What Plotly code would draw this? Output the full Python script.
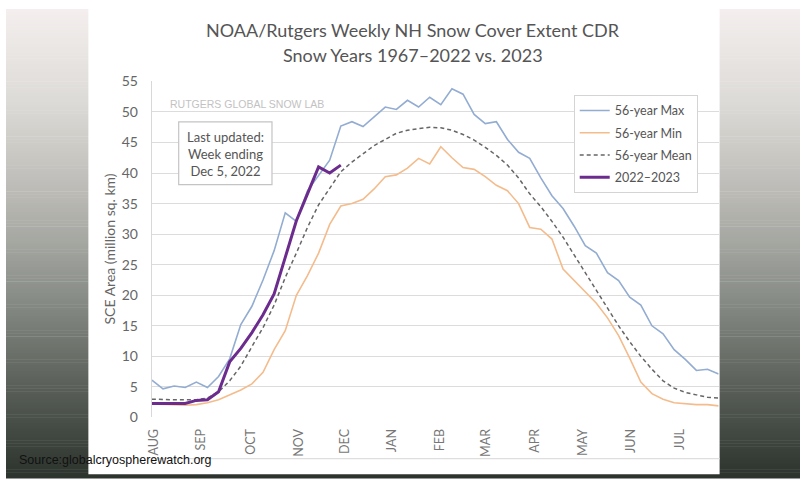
import plotly.graph_objects as go

# ---------------- data ----------------
weeks = list(range(52))
month_labels = ["AUG", "SEP", "OCT", "NOV", "DEC", "JAN", "FEB", "MAR", "APR", "MAY", "JUN", "JUL"]
month_pos = [0.2, 4.4, 8.9, 13.2, 17.4, 21.6, 25.9, 30.1, 34.5, 38.8, 43.1, 47.5]
y_ticks = [0, 5, 10, 15, 20, 25, 30, 35, 40, 45, 50, 55]

max_vals = [6.1, 4.7, 5.15, 4.9, 5.8, 4.9, 6.7, 9.6, 15.2, 18.2, 22.5, 27.3, 33.5, 32.1,
            37.1, 39.5, 42.1, 47.7, 48.4, 47.6, 49.2, 50.8, 50.4, 51.9, 50.8, 52.4, 51.2,
            53.8, 52.9, 49.6, 48.1, 48.4, 45.5, 43.4, 42.4, 39.2, 36.3, 34.2, 31.3, 28.1,
            26.9, 23.7, 22.4, 19.7, 18.4, 15.0, 13.7, 11.1, 9.5, 7.7, 7.9, 7.1]
min_vals = [2.2, 2.1, 2.0, 2.0, 2.1, 2.4, 2.9, 3.7, 4.5, 5.5, 7.4, 11.1, 14.2, 20.0, 23.2,
            26.9, 31.6, 34.6, 35.0, 35.7, 37.4, 39.4, 39.7, 40.8, 42.4, 41.5, 44.3, 42.5,
            40.9, 40.6, 39.4, 38.0, 37.1, 35.0, 31.1, 30.8, 29.2, 24.3, 22.4, 20.5, 18.7,
            16.3, 13.4, 9.7, 5.8, 3.9, 3.0, 2.4, 2.2, 2.1, 2.1, 1.9]
mean_vals = [3.0, 2.9, 2.9, 2.9, 2.9, 3.2, 4.2, 6.0, 8.4, 11.6, 14.7, 18.4, 22.9, 26.9,
             31.1, 34.8, 37.6, 40.2, 41.8, 43.2, 44.5, 45.5, 46.5, 47.0, 47.3, 47.5, 47.4,
             47.0, 46.3, 45.4, 44.2, 42.9, 41.3, 39.2, 36.6, 34.5, 32.1, 29.5, 26.6, 23.7,
             20.8, 17.9, 15.0, 12.4, 10.0, 7.9, 6.0, 4.8, 4.1, 3.7, 3.3, 3.2]
cur_vals = [2.3, 2.3, 2.3, 2.3, 2.8, 2.9, 4.2, 9.1, 11.3, 13.9, 16.8, 20.2, 26.2, 32.2,
            36.6, 41.0, 40.0, 41.3]

W, H = 800, 486
FONT = "Lato, 'Open Sans', sans-serif"


def px_x(p):
    return p / W


def px_y(p):
    return 1 - p / H


# ---------------- figure ----------------
fig = go.Figure()
fig.add_trace(go.Scatter(x=weeks, y=max_vals, name="56-year Max", mode="lines", legendgroup="a",
                         line=dict(color="#93acd2", width=1.6)))
fig.add_trace(go.Scatter(x=weeks, y=min_vals, name="56-year Min", mode="lines", legendgroup="b",
                         line=dict(color="#f4bc8c", width=1.6)))
fig.add_trace(go.Scatter(x=weeks, y=mean_vals, name="56-year Mean", mode="lines", legendgroup="c",
                         line=dict(color="#666666", width=1.5, dash="4px,3px")))
fig.add_trace(go.Scatter(x=weeks[:len(cur_vals)], y=cur_vals, name="2022\u20132023", mode="lines",
                         legendgroup="d", line=dict(color="#6b2c8e", width=3)))

# ---------------- background gradient (decoration) ----------------
stops = [(0.0, (244, 239, 238)), (0.2, (220, 218, 214)), (0.4, (186, 185, 180)),
         (0.5, (164, 166, 160)), (0.6, (140, 144, 138)), (0.7, (116, 120, 114)),
         (0.8, (91, 97, 90)), (0.9, (67, 74, 67)), (1.0, (44, 51, 45))]


def grad(t):
    for (t0, c0), (t1, c1) in zip(stops[:-1], stops[1:]):
        if t0 <= t <= t1:
            f = (t - t0) / (t1 - t0)
            return "rgb(%d,%d,%d)" % tuple(round(a + (b - a) * f) for a, b in zip(c0, c1))
    return "rgb(44,51,45)"


shapes = []
step = 3
for top in range(0, H, step):
    t = (top + step / 2) / H
    shapes.append(dict(type="rect", xref="paper", yref="paper", layer="below",
                       x0=0, x1=1, y0=px_y(top + step + 0.5), y1=px_y(top),
                       fillcolor=grad(t), line=dict(width=0)))
# white chart panel
shapes.append(dict(type="rect", xref="paper", yref="paper", layer="below",
                   x0=px_x(83), x1=px_x(719), y0=px_y(482), y1=1,
                   fillcolor="white", line=dict(width=0)))
# bottom rule under the tick labels
shapes.append(dict(type="line", xref="paper", yref="paper", layer="below",
                   x0=px_x(147), x1=px_x(719), y0=px_y(466), y1=px_y(466),
                   line=dict(color="#dedede", width=1.3)))
# "last updated" box
shapes.append(dict(type="rect", xref="paper", yref="paper",
                   x0=px_x(174), x1=px_x(268), y0=px_y(182), y1=px_y(117),
                   fillcolor="white", line=dict(color="#c4c4c4", width=1.2)))

annotations = [
    dict(text="NOAA/Rutgers Weekly NH Snow Cover Extent CDR", x=px_x(410), y=px_y(22),
         xref="paper", yref="paper", showarrow=False, xanchor="center", yanchor="middle",
         font=dict(family=FONT, size=18, color="#555555")),
    dict(text="Snow Years 1967\u20132022 vs. 2023", x=px_x(410), y=px_y(48),
         xref="paper", yref="paper", showarrow=False, xanchor="center", yanchor="middle",
         font=dict(family=FONT, size=18, color="#555555")),
    dict(text="SCE Area (million sq. km)", x=px_x(104), y=px_y(249), textangle=-90,
         xref="paper", yref="paper", showarrow=False, xanchor="center", yanchor="middle",
         font=dict(family=FONT, size=14, color="#666666")),
    dict(text="RUTGERS GLOBAL SNOW LAB", x=px_x(163), y=px_y(98),
         xref="paper", yref="paper", showarrow=False, xanchor="left", yanchor="middle",
         font=dict(family="Liberation Sans, Arial, sans-serif", size=10.5, color="#c2c2c2")),
    dict(text="Last updated:<br>Week ending<br>Dec 5, 2022", x=px_x(221), y=px_y(150),
         xref="paper", yref="paper", showarrow=False, xanchor="center", yanchor="middle",
         align="center", font=dict(family=FONT, size=13, color="#555555")),
    dict(text="Source:globalcryospherewatch.org", x=px_x(11), y=px_y(467),
         xref="paper", yref="paper", showarrow=False, xanchor="left", yanchor="middle",
         font=dict(family="Liberation Sans, Arial, sans-serif", size=12.5, color="#111111")),
]

fig.update_layout(
    width=W, height=H,
    margin=dict(l=0, r=0, t=0, b=0),
    paper_bgcolor="white",
    plot_bgcolor="rgba(0,0,0,0)",
    shapes=shapes,
    annotations=annotations,
    showlegend=True,
    legend=dict(x=px_x(572), y=px_y(89), xanchor="left", yanchor="top",
                bgcolor="white", bordercolor="#d4d4d4", borderwidth=1,
                font=dict(family=FONT, size=12.5, color="#555555"),
                tracegroupgap=3),
    xaxis=dict(domain=[px_x(147), px_x(718)], range=[0, 51], showgrid=False,
               zeroline=False, showline=False, tickmode="array",
               tickvals=month_pos, ticktext=month_labels, tickangle=-90,
               ticks="", ticklabelstandoff=8,
               tickfont=dict(family=FONT, size=12.5, color="#777777")),
    yaxis=dict(domain=[px_y(423.3), px_y(75)], range=[0, 55], tickmode="array",
               tickvals=y_ticks, showgrid=True, gridcolor="#dcdcdc", gridwidth=1.3,
               zeroline=False, showline=True, linecolor="#d8d8d8", linewidth=1.3,
               ticks="", ticklabelstandoff=10,
               tickfont=dict(family=FONT, size=14, color="#666666")),
)

fig.write_html("out.html")
